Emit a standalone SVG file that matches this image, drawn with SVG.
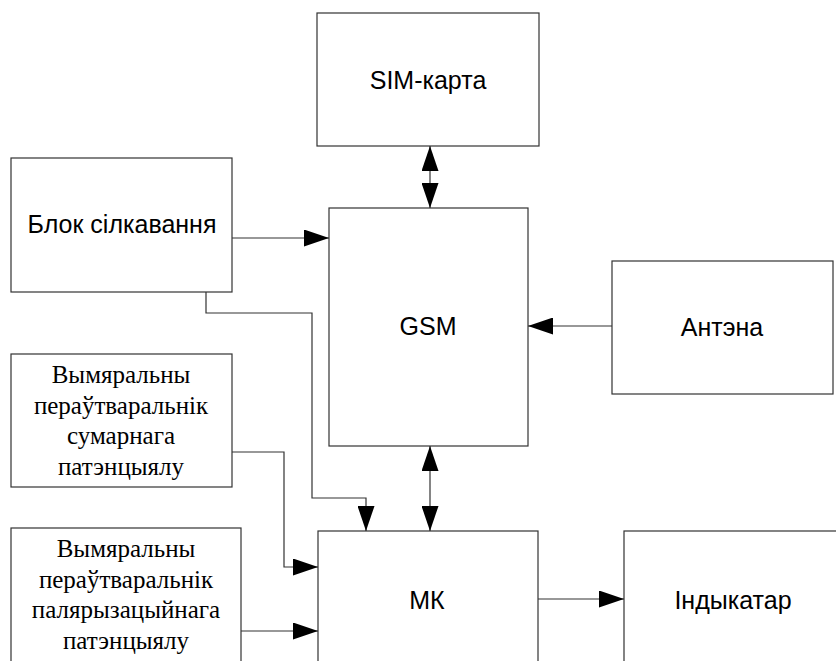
<svg xmlns="http://www.w3.org/2000/svg" width="836" height="661" viewBox="0 0 836 661">
<defs>
<style>
.box{fill:#fff;stroke:#333;stroke-width:1.2}
.ln{fill:none;stroke:#333;stroke-width:1.2}
.sans{font-family:"Liberation Sans",Arial,sans-serif;font-size:25px;fill:#000;text-anchor:middle}
.serif{font-family:"Liberation Serif","Times New Roman",serif;font-size:25px;fill:#000;text-anchor:middle}
</style>
<marker id="ah" viewBox="0 0 25 17" refX="25" refY="8.5" markerWidth="25" markerHeight="17" markerUnits="userSpaceOnUse" orient="auto-start-reverse">
<path d="M0,0 L25,8.5 L0,17 Z" fill="#000"/>
</marker>
</defs>
<rect width="836" height="661" fill="#fff"/>
<g id="sim"><rect class="box" x="317" y="13" width="222" height="133"/><text class="sans" x="428" y="89">SIM-карта</text></g>
<g id="blok"><rect class="box" x="11" y="158" width="221" height="134"/><text class="sans" x="122" y="233">Блок сілкавання</text></g>
<g id="gsm"><rect class="box" x="329" y="208" width="199" height="238"/><text class="sans" x="428" y="335">GSM</text></g>
<g id="antena"><rect class="box" x="612" y="261" width="221" height="133"/><text class="sans" x="722" y="336">Антэна</text></g>
<g id="vym1"><rect class="box" x="11" y="354" width="221" height="133"/>
<text class="serif" x="121" y="383">Вымяральны</text>
<text class="serif" x="121" y="414">пераўтваральнік</text>
<text class="serif" x="121" y="444">сумарнага</text>
<text class="serif" x="121" y="475">патэнцыялу</text></g>
<g id="vym2"><rect class="box" x="11" y="528" width="230" height="140"/>
<text class="serif" x="126" y="557">Вымяральны</text>
<text class="serif" x="126" y="588">пераўтваральнік</text>
<text class="serif" x="126" y="618">палярызацыйнага</text>
<text class="serif" x="126" y="649">патэнцыялу</text></g>
<g id="mk"><rect class="box" x="318" y="531" width="220" height="140"/><text class="sans" x="427" y="609">МК</text></g>
<g id="ind"><rect class="box" x="624" y="531" width="220" height="140"/><text class="sans" x="733" y="609">Індыкатар</text></g>
<g id="connectors">
<line class="ln" x1="430" y1="146" x2="430" y2="208" marker-start="url(#ah)" marker-end="url(#ah)"/>
<line class="ln" x1="232" y1="238" x2="329" y2="238" marker-end="url(#ah)"/>
<line class="ln" x1="612" y1="326" x2="528" y2="326" marker-end="url(#ah)"/>
<line class="ln" x1="430" y1="446" x2="430" y2="531" marker-start="url(#ah)" marker-end="url(#ah)"/>
<polyline class="ln" points="206,292 206,313 312,313 312,498 366,498 366,531" marker-end="url(#ah)"/>
<polyline class="ln" points="232,452 284,452 284,567 318,567" marker-end="url(#ah)"/>
<line class="ln" x1="241" y1="631" x2="318" y2="631" marker-end="url(#ah)"/>
<line class="ln" x1="538" y1="599" x2="624" y2="599" marker-end="url(#ah)"/>
</g>
</svg>
